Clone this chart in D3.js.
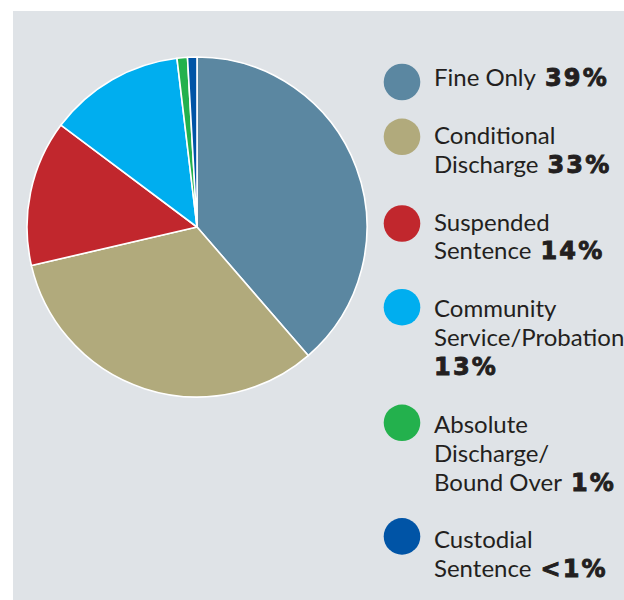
<!DOCTYPE html>
<html>
<head>
<meta charset="utf-8">
<script src="https://cdn.jsdelivr.net/npm/d3@7"></script>
<style>
  html, body { margin: 0; padding: 0; background: #ffffff; }
  svg { display: block; }
</style>
</head>
<body>
<script>
// Sentence types and their share of cases
const categories = [
  "Fine Only",
  "Conditional Discharge",
  "Suspended Sentence",
  "Community Service/Probation",
  "Absolute Discharge/Bound Over",
  "Custodial Sentence"
];
const shares = [39, 33, 14, 13, 1, 0.9];
const shareLabels = ["39%", "33%", "14%", "13%", "1%", "<1%"];
// Legend text, broken into lines; the share label follows the last line
const legendLines = [
  ["Fine Only"],
  ["Conditional", "Discharge"],
  ["Suspended", "Sentence"],
  ["Community", "Service/Probation", ""],
  ["Absolute", "Discharge/", "Bound Over"],
  ["Custodial", "Sentence"]
];
const colors = ["#5b87a1", "#b1aa7c", "#c1272d", "#00aeef", "#23b14d", "#0054a6"];

const W = 624, H = 600;
const svg = d3.select("body").append("svg").attr("width", W).attr("height", H);

// grey panel
svg.append("rect")
  .attr("x", 13).attr("y", 11)
  .attr("width", W - 13).attr("height", H - 11)
  .attr("fill", "#dfe3e7");

// pie
const cx = 197, cy = 227, R = 170;
const pie = d3.pie().sort(null).value(d => d.v);
const arc = d3.arc().innerRadius(0).outerRadius(R);
const data = categories.map((c, i) => ({ name: c, v: shares[i], color: colors[i] }));

const g = svg.append("g").attr("transform", `translate(${cx},${cy})`);
g.selectAll("path")
  .data(pie(data))
  .join("path")
  .attr("d", arc)
  .attr("fill", d => d.data.color)
  .attr("stroke", "#ffffff")
  .attr("stroke-width", 1.6)
  .attr("stroke-linejoin", "round");

// legend
const lx = 402, tx = 434, lineH = 28.9, firstBaseline = 86;
const regFont = "Lato, 'Open Sans', sans-serif";
const boldFont = "'DejaVu Sans', sans-serif";
let baseline = firstBaseline;
const legend = svg.append("g");

categories.forEach((c, i) => {
  const lines = legendLines[i];
  const item = legend.append("g");
  const dy = i === categories.length - 1 ? 12 : 4 + 3 * (lines.length - 1);
  item.append("circle")
    .attr("cx", lx)
    .attr("cy", baseline - dy)
    .attr("r", 18.3)
    .attr("fill", colors[i]);

  lines.forEach((ln, j) => {
    const t = item.append("text")
      .attr("x", tx)
      .attr("y", baseline + j * lineH)
      .attr("fill", "#231f20")
      .style("font-family", regFont)
      .style("font-size", "24px");
    if (ln) t.append("tspan").text(ln);
    if (j === lines.length - 1) {
      t.append("tspan")
        .attr("dx", ln ? 9 : 0)
        .attr("stroke", "#231f20")
        .attr("stroke-width", 0.9)
        .style("font-family", boldFont)
        .style("font-weight", "bold")
        .style("font-size", "24px")
        .style("letter-spacing", "2.2px")
        .text(shareLabels[i]);
    }
  });
  baseline += (lines.length + 1) * lineH;
});
</script>
</body>
</html>
